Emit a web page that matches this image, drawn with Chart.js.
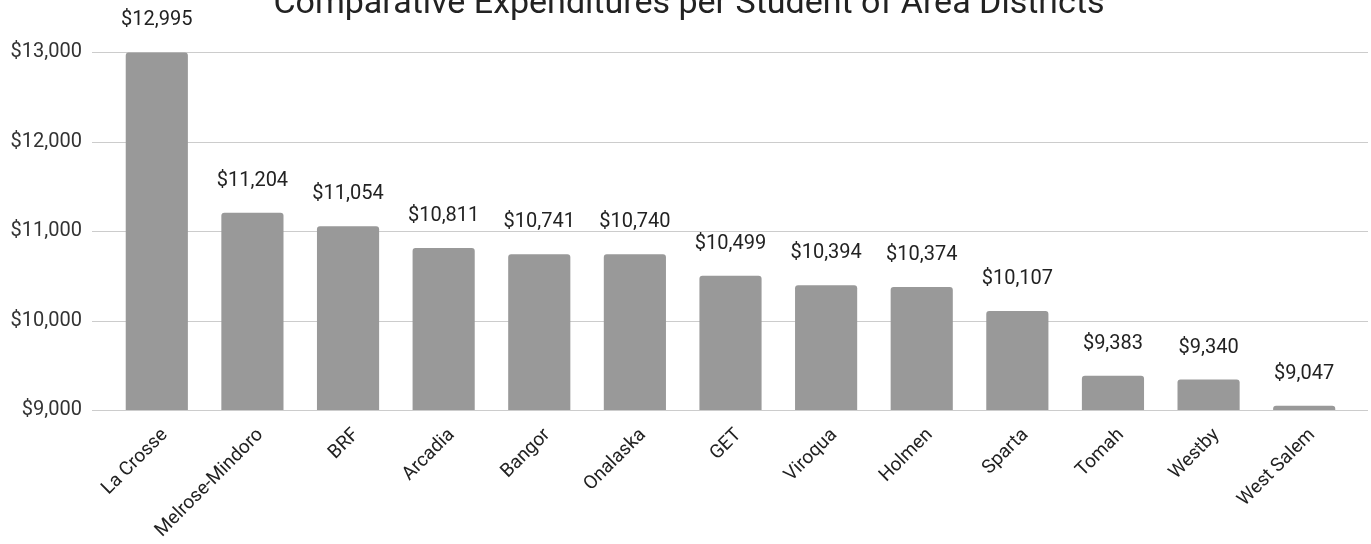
<!DOCTYPE html>
<html>
<head>
<meta charset="utf-8">
<script src="https://cdn.jsdelivr.net/npm/chart.js@4/dist/chart.umd.min.js"></script>
<style>
    html, body { margin: 0; padding: 0; background: #fff; overflow: hidden; }
    .wrap { position: relative; width: 1371px; height: 544px; }
</style>
</head>
<body>
<div class="wrap"><canvas id="spendChart"></canvas></div>
<script>
// Expenditures per student, by district
const districts = ['La Crosse', 'Melrose-Mindoro', 'BRF', 'Arcadia', 'Bangor', 'Onalaska', 'GET',
    'Viroqua', 'Holmen', 'Sparta', 'Tomah', 'Westby', 'West Salem'];
const perStudent = [12995, 11204, 11054, 10811, 10741, 10740, 10499, 10394, 10374, 10107, 9383, 9340, 9047];
const yTicks = [9000, 10000, 11000, 12000, 13000];
const chartTitle = 'Comparative Expenditures per Student of Area Districts';

const FONT = 'Roboto, "Noto Sans", sans-serif';

function dollars(v) {
    return '$' + v.toLocaleString('en-US');
}

// title sits half cut off at the very top of the export
const topTitle = {
    id: 'topTitle',
    afterDraw(chart) {
        const ctx = chart.ctx;
        ctx.save();
        ctx.font = '34px ' + FONT;
        ctx.fillStyle = '#222222';
        ctx.textAlign = 'center';
        ctx.textBaseline = 'alphabetic';
        ctx.fillText(chartTitle, 689, 13);
        ctx.restore();
    }
};

// gridlines drawn wider than the plot area, like the sheet export
const wideGrid = {
    id: 'wideGrid',
    beforeDatasetsDraw(chart) {
        const ctx = chart.ctx, y = chart.scales.y;
        ctx.save();
        ctx.strokeStyle = '#cccccc';
        ctx.lineWidth = 1;
        yTicks.forEach(function (t) {
            const py = Math.round(y.getPixelForValue(t)) + 0.5;
            ctx.beginPath();
            ctx.moveTo(92, py);
            ctx.lineTo(1368, py);
            ctx.stroke();
        });
        ctx.restore();
    }
};

// value labels above each bar
const valueLabels = {
    id: 'valueLabels',
    afterDatasetsDraw(chart) {
        const ctx = chart.ctx;
        ctx.save();
        ctx.font = '20px ' + FONT;
        ctx.fillStyle = '#222222';
        ctx.textAlign = 'center';
        ctx.textBaseline = 'middle';
        chart.getDatasetMeta(0).data.forEach(function (bar, i) {
            ctx.fillText(dollars(perStudent[i]), bar.x, bar.y - 32);
        });
        ctx.restore();
    }
};

new Chart(document.getElementById('spendChart'), {
    type: 'bar',
    data: {
        labels: districts,
        datasets: [{
            data: perStudent,
            backgroundColor: '#999999',
            borderRadius: { topLeft: 3, topRight: 3 },
            borderSkipped: 'bottom',
            barPercentage: 0.65,
            categoryPercentage: 1
        }]
    },
    options: {
        responsive: true, maintainAspectRatio: false,
        animation: false,
        layout: { padding: { top: 52, right: 19, left: 0, bottom: 0 } },
        plugins: {
            legend: { display: false },
            tooltip: { enabled: false },
            title: { display: false }
        },
        scales: {
            x: {
                grid: { display: false },
                border: { display: false },
                ticks: {
                    color: '#222222', font: { family: FONT, size: 19 },
                    maxRotation: 45, minRotation: 45, autoSkip: false,
                    padding: 6, labelOffset: 8
                },
                afterFit: function (s) { s.height = 134; }
            },
            y: {
                min: 9000, max: 13000,
                grid: { display: false },
                border: { display: false },
                ticks: {
                    stepSize: 1000, color: '#333333', padding: 19,
                    font: { family: FONT, size: 20 },
                    callback: function (v) { return dollars(v); }
                },
                afterFit: function (s) { s.width = 109; }
            }
        }
    },
    plugins: [wideGrid, valueLabels, topTitle]
});
</script>
</body>
</html>
